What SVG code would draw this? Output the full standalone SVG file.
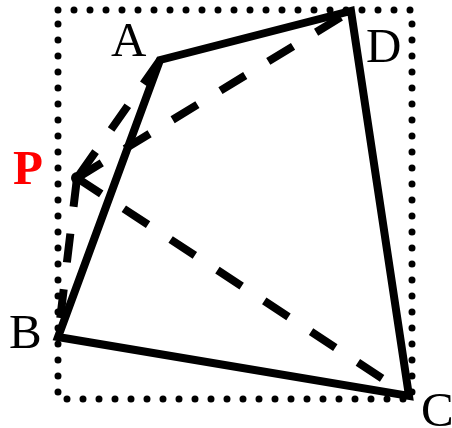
<svg xmlns="http://www.w3.org/2000/svg" width="452" height="428" viewBox="0 0 452 428">
<style>
.frame{fill:none;stroke:#000;stroke-width:7;stroke-linecap:round;stroke-dasharray:0 16}
.solid{fill:none;stroke:#000;stroke-width:8;stroke-linejoin:miter;stroke-linecap:round}
.dash{fill:none;stroke:#000;stroke-width:8;stroke-dasharray:29 27}
.lbl{font-family:"Liberation Serif","Times New Roman",serif;font-size:49px;fill:#000}
.red{fill:#ff0000;font-weight:bold}
</style>
<rect class="frame" x="58" y="10" width="354" height="389"/>
<g id="connectors">
<polygon class="solid" points="160,60 351,11 409,396 58,337"/>
<line class="dash" x1="160" y1="60" x2="77" y2="178"/>
<line class="dash" x1="77" y1="178" x2="351" y2="11"/>
<line class="dash" x1="77" y1="178" x2="409" y2="396"/>
<line class="dash" x1="77" y1="178" x2="58" y2="337"/>
</g>
<g id="node-P"><circle cx="77" cy="178" r="6" fill="#000"/><text class="lbl red" x="13" y="184">P</text></g>
<g id="node-A"><text class="lbl" x="111" y="56">A</text></g>
<g id="node-D"><text class="lbl" x="366" y="62">D</text></g>
<g id="node-B"><text class="lbl" x="9" y="348">B</text></g>
<g id="node-C"><text class="lbl" x="421" y="426">C</text></g>
</svg>
